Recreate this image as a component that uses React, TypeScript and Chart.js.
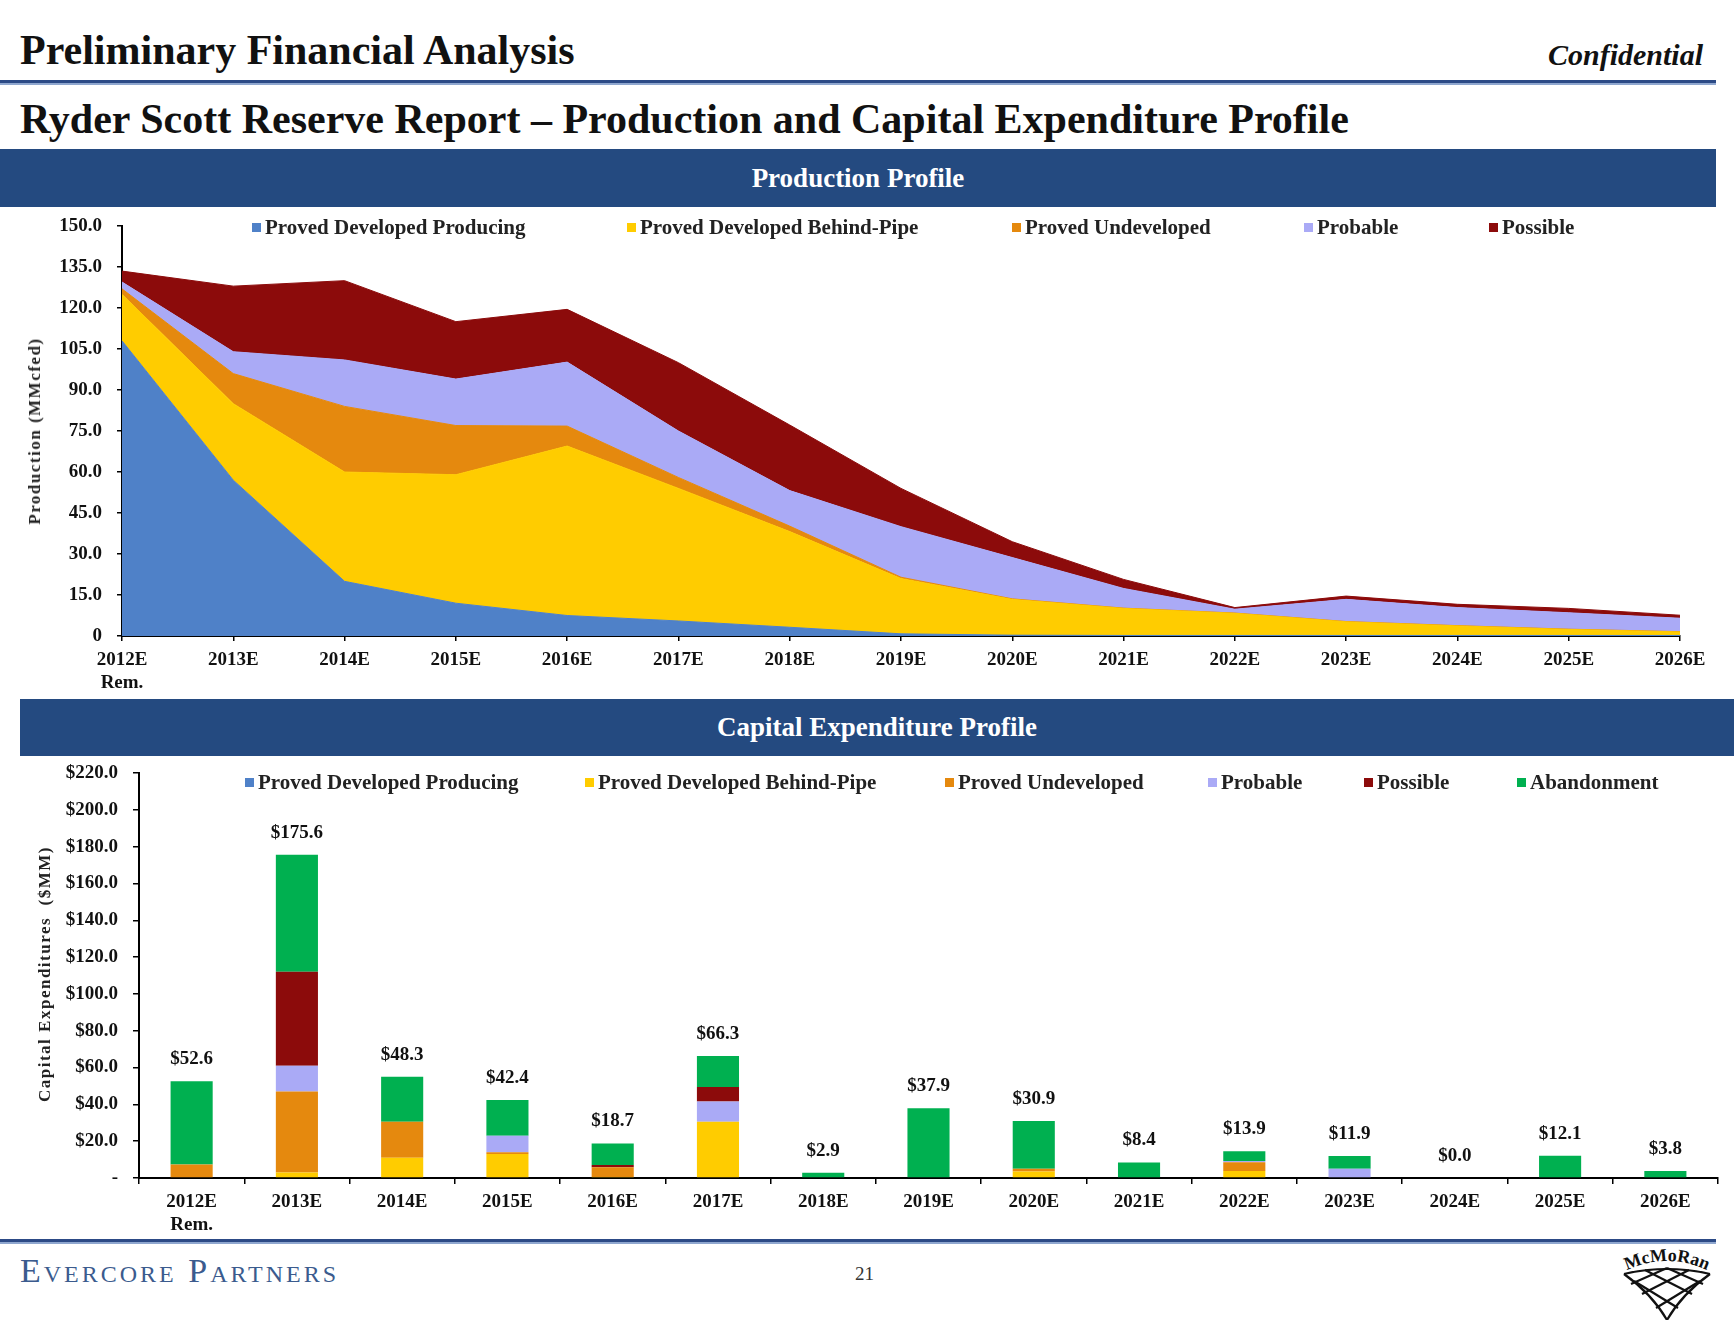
import React, { useEffect, useRef } from "react";
import { Chart, registerables } from "chart.js";

Chart.register(...registerables);

const FONT = '"Liberation Serif", "Times New Roman", serif';

// ---------- data ----------
const years = ["2012E", "2013E", "2014E", "2015E", "2016E", "2017E", "2018E", "2019E", "2020E", "2021E", "2022E", "2023E", "2024E", "2025E", "2026E"];
const xTickLabels: (string | string[])[] = [["2012E", "Rem."], "2013E", "2014E", "2015E", "2016E", "2017E", "2018E", "2019E", "2020E", "2021E", "2022E", "2023E", "2024E", "2025E", "2026E"];

const seriesNames = ["Proved Developed Producing", "Proved Developed Behind-Pipe", "Proved Undeveloped", "Probable", "Possible"];
const abandonmentName = "Abandonment";

// Production (MMcfed)
const prodPDP = [108, 57, 20, 12, 7.5, 5.5, 3.2, 0.8, 0.3, 0.2, 0.2, 0.2, 0.2, 0.2, 0.2];
const prodPDBP = [17, 28, 40, 47, 62, 48.5, 35, 20.2, 13.1, 9.9, 8.1, 5.0, 3.5, 2.2, 1.3];
const prodPUD = [2, 11, 24, 18, 7.3, 4, 2, 0.5, 0.2, 0.1, 0.1, 0.1, 0.1, 0.1, 0.1];
const prodProbable = [2.5, 8, 17, 17, 23.4, 17, 13, 18.5, 15.1, 7.2, 1.4, 8.1, 6.6, 6.0, 4.9];
const prodPossible = [4, 24, 29, 21, 19.3, 25, 24, 14, 5.8, 3.3, 0.6, 1.2, 1.2, 1.6, 1.1];

// Capital expenditures ($MM)
const capexPDP = [0, 0, 0, 0, 0, 0, 0, 0, 0, 0, 0, 0, 0, 0, 0];
const capexPDBP = [0, 3, 11, 13, 0.5, 30.5, 0, 0, 3.5, 0, 3.8, 0, 0, 0, 0];
const capexPUD = [7.3, 44, 19.5, 1, 5.3, 0, 0, 0, 1.5, 0, 4.7, 0, 0, 0, 0];
const capexProbable = [0, 14, 0, 9, 0, 11, 0, 0, 0, 0, 0.8, 5, 0, 0, 0];
const capexPossible = [0, 51, 0, 0, 1.3, 8, 0, 0, 0, 0, 0, 0, 0, 0, 0];
const capexAbandonment = [45.3, 63.6, 24.5, 19.4, 11.6, 16.8, 2.9, 37.9, 25.9, 8.4, 5.2, 6.9, 0, 12.1, 3.8];
const capexTotalLabels = ["$52.6", "$175.6", "$48.3", "$42.4", "$18.7", "$66.3", "$2.9", "$37.9", "$30.9", "$8.4", "$13.9", "$11.9", "$0.0", "$12.1", "$3.8"];

// ---------- styles ----------
const COLORS = ["#4F81C8", "#FFCC00", "#E5890E", "#AAAAF6", "#8C0B0B"];
const GREEN = "#00B050";
const NAVY = "#244A80";

const topLegendX = [252, 627, 1012, 1304, 1489];
const bottomLegendX = [245, 585, 945, 1208, 1364, 1517];

const totalLabelsPlugin = {
  id: "totalLabels",
  afterDatasetsDraw(chart: any) {
    const { ctx, scales } = chart;
    const x = scales.x;
    const y = scales.y;
    ctx.save();
    ctx.font = `bold 19px ${FONT}`;
    ctx.fillStyle = "#111";
    ctx.textAlign = "center";
    ctx.textBaseline = "middle";
    years.forEach((_, i) => {
      let sum = 0;
      chart.data.datasets.forEach((ds: any) => {
        sum += Number(ds.data[i]) || 0;
      });
      ctx.fillText(capexTotalLabels[i], x.getPixelForValue(i), y.getPixelForValue(sum) - 22);
    });
    ctx.restore();
  },
};

const tickFont = { family: FONT, size: 19, weight: "bold" as const };

function LegendItem({ x, y, color, text }: { x: number; y: number; color: string; text: string }) {
  return (
    <div style={{ position: "absolute", left: x, top: y - 12, height: 24, display: "flex", alignItems: "center", whiteSpace: "nowrap" }}>
      <div style={{ width: 9, height: 9, background: color, marginRight: 4 }} />
      <span style={{ fontFamily: FONT, fontWeight: "bold", fontSize: 21, color: "#222" }}>{text}</span>
    </div>
  );
}

export default function App() {
  const topRef = useRef<HTMLCanvasElement>(null);
  const botRef = useRef<HTMLCanvasElement>(null);

  useEffect(() => {
    const prodData = [prodPDP, prodPDBP, prodPUD, prodProbable, prodPossible];
    const top = new Chart(topRef.current!, {
      type: "line",
      data: {
        labels: xTickLabels as any,
        datasets: prodData.map((d, i) => ({
          label: seriesNames[i],
          data: d,
          backgroundColor: COLORS[i],
          borderColor: COLORS[i],
          borderWidth: 1,
          pointRadius: 0,
          tension: 0,
          fill: i === 0 ? "origin" : "-1",
        })),
      },
      options: {
        animation: false,
        responsive: false,
        layout: { padding: { top: 26, right: 54, left: 0, bottom: 0 } },
        plugins: { legend: { display: false }, tooltip: { enabled: false } },
        scales: {
          x: {
            type: "category",
            offset: false,
            grid: { display: true, drawOnChartArea: false, drawTicks: true, tickLength: 5, color: "#000", lineWidth: 1.5 },
            border: { display: true, color: "#000", width: 2 },
            ticks: { color: "#111", font: tickFont, padding: 8, maxRotation: 0, autoSkip: false },
            afterFit: (s: any) => {
              s.height = 64;
            },
          },
          y: {
            stacked: true,
            min: 0,
            max: 150,
            grid: { display: true, drawOnChartArea: false, drawTicks: true, tickLength: 5, color: "#000", lineWidth: 1.5 },
            border: { display: true, color: "#000", width: 2 },
            ticks: {
              stepSize: 15,
              color: "#111",
              font: tickFont,
              padding: 15,
              callback: (v: any) => (Number(v) === 0 ? "0" : Number(v).toFixed(1)),
            },
            afterFit: (s: any) => {
              s.width = 122;
              s.paddingTop = 0;
              s.paddingBottom = 0;
            },
          },
        },
      },
    });

    const capexData = [capexPDP, capexPDBP, capexPUD, capexProbable, capexPossible];
    const bot = new Chart(botRef.current!, {
      type: "bar",
      data: {
        labels: xTickLabels as any,
        datasets: [
          ...capexData.map((d, i) => ({
            label: seriesNames[i],
            data: d,
            backgroundColor: COLORS[i],
            barPercentage: 0.4,
            categoryPercentage: 1,
          })),
          { label: abandonmentName, data: capexAbandonment, backgroundColor: GREEN, barPercentage: 0.4, categoryPercentage: 1 },
        ],
      },
      options: {
        animation: false,
        responsive: false,
        layout: { padding: { top: 13, right: 16, left: 0, bottom: 0 } },
        plugins: { legend: { display: false }, tooltip: { enabled: false } },
        scales: {
          x: {
            stacked: true,
            grid: { display: true, offset: true, drawOnChartArea: false, drawTicks: true, tickLength: 6, color: "#000", lineWidth: 1.5 },
            border: { display: true, color: "#000", width: 2 },
            ticks: { color: "#111", font: tickFont, padding: 7, maxRotation: 0, autoSkip: false },
            afterFit: (s: any) => {
              s.height = 62;
            },
          },
          y: {
            stacked: true,
            min: 0,
            max: 220,
            grid: { display: true, drawOnChartArea: false, drawTicks: true, tickLength: 6, color: "#000", lineWidth: 1.5 },
            border: { display: true, color: "#000", width: 2 },
            ticks: {
              stepSize: 20,
              color: "#111",
              font: tickFont,
              padding: 15,
              callback: (v: any) => (Number(v) === 0 ? "-" : "$" + Number(v).toFixed(1)),
            },
            afterFit: (s: any) => {
              s.width = 139;
              s.paddingTop = 0;
              s.paddingBottom = 0;
            },
          },
        },
      },
      plugins: [totalLabelsPlugin],
    });

    return () => {
      top.destroy();
      bot.destroy();
    };
  }, []);

  const abs = (o: React.CSSProperties): React.CSSProperties => ({ position: "absolute", ...o });

  return (
    <div style={{ position: "absolute", left: 0, top: 0, width: 1734, height: 1320, background: "#fff", overflow: "hidden", fontFamily: FONT }}>
      {/* header */}
      <div style={abs({ left: 20, top: 29, fontSize: 42, lineHeight: 1, fontWeight: "bold", color: "#111", whiteSpace: "nowrap" })}>
        Preliminary Financial Analysis
      </div>
      <div style={abs({ right: 31, top: 40, fontSize: 30, lineHeight: 1, fontWeight: "bold", fontStyle: "italic", color: "#111", whiteSpace: "nowrap" })}>
        Confidential
      </div>
      <div style={abs({ left: 0, top: 80, width: 1716, height: 3, background: "#2C4A86" })} />
      <div style={abs({ left: 0, top: 83, width: 1716, height: 2, background: "#8FA7CF" })} />
      <div style={abs({ left: 20, top: 98, fontSize: 42, lineHeight: 1, fontWeight: "bold", color: "#111", whiteSpace: "nowrap" })}>
        Ryder Scott Reserve Report – Production and Capital Expenditure Profile
      </div>

      {/* production banner */}
      <div style={abs({ left: 0, top: 149, width: 1716, height: 58, background: NAVY, display: "flex", alignItems: "center", justifyContent: "center" })}>
        <span style={{ color: "#fff", fontSize: 27, fontWeight: "bold" }}>Production Profile</span>
      </div>

      <canvas ref={topRef} width={1734} height={500} style={abs({ left: 0, top: 200 })} />
      {seriesNames.map((n, i) => (
        <LegendItem key={n} x={topLegendX[i]} y={227} color={COLORS[i]} text={n} />
      ))}
      <div style={abs({ left: 35, top: 431, transform: "translate(-50%, -50%) rotate(-90deg)", fontSize: 17, fontWeight: "bold", letterSpacing: 1.5, whiteSpace: "nowrap", color: "#222" })}>
        Production (MMcfed)
      </div>

      {/* capex banner */}
      <div style={abs({ left: 20, top: 699, width: 1714, height: 57, background: NAVY, display: "flex", alignItems: "center", justifyContent: "center" })}>
        <span style={{ color: "#fff", fontSize: 27, fontWeight: "bold" }}>Capital Expenditure Profile</span>
      </div>

      <canvas ref={botRef} width={1734} height={480} style={abs({ left: 0, top: 760 })} />
      {[...seriesNames, abandonmentName].map((n, i) => (
        <LegendItem key={"b" + n} x={bottomLegendX[i]} y={782} color={i < 5 ? COLORS[i] : GREEN} text={n} />
      ))}
      <div style={abs({ left: 45, top: 974, transform: "translate(-50%, -50%) rotate(-90deg)", fontSize: 17, fontWeight: "bold", letterSpacing: 1.5, whiteSpace: "pre", color: "#222" })}>
        Capital Expenditures  ($MM)
      </div>

      {/* footer */}
      <div style={abs({ left: 0, top: 1239, width: 1716, height: 3, background: "#2C4A86" })} />
      <div style={abs({ left: 0, top: 1242, width: 1716, height: 2, background: "#8FA7CF" })} />
      <div style={abs({ left: 20, top: 1254, fontSize: 34, lineHeight: 1, fontVariant: "small-caps", letterSpacing: 3, color: "#3B5B8E", whiteSpace: "nowrap" })}>
        Evercore Partners
      </div>
      <div style={abs({ left: 855, top: 1264, fontSize: 19, lineHeight: 1, color: "#333" })}>21</div>

      <svg style={abs({ left: 1612, top: 1244 })} width={110} height={76} viewBox="0 0 110 76">
        <defs>
          <path id="logoArc" d="M4,32 Q55,2 106,32" />
        </defs>
        <text fontFamily={FONT} fontWeight="bold" fontSize="18" fill="#111">
          <textPath href="#logoArc" startOffset="50%" textAnchor="middle">McMoRan</textPath>
        </text>
        <g fill="none" stroke="#111" strokeWidth="2.2">
          <path d="M12,30 Q55,20 98,30" />
          <path d="M12,30 Q40,50 55,76" />
          <path d="M98,30 Q70,50 55,76" />
          <path d="M33,26 L80,50" />
          <path d="M55,24 L91,40" />
          <path d="M77,26 L30,50" />
          <path d="M55,24 L19,40" />
          <path d="M22,37 L66,64" />
          <path d="M88,37 L44,64" />
        </g>
      </svg>
    </div>
  );
}
